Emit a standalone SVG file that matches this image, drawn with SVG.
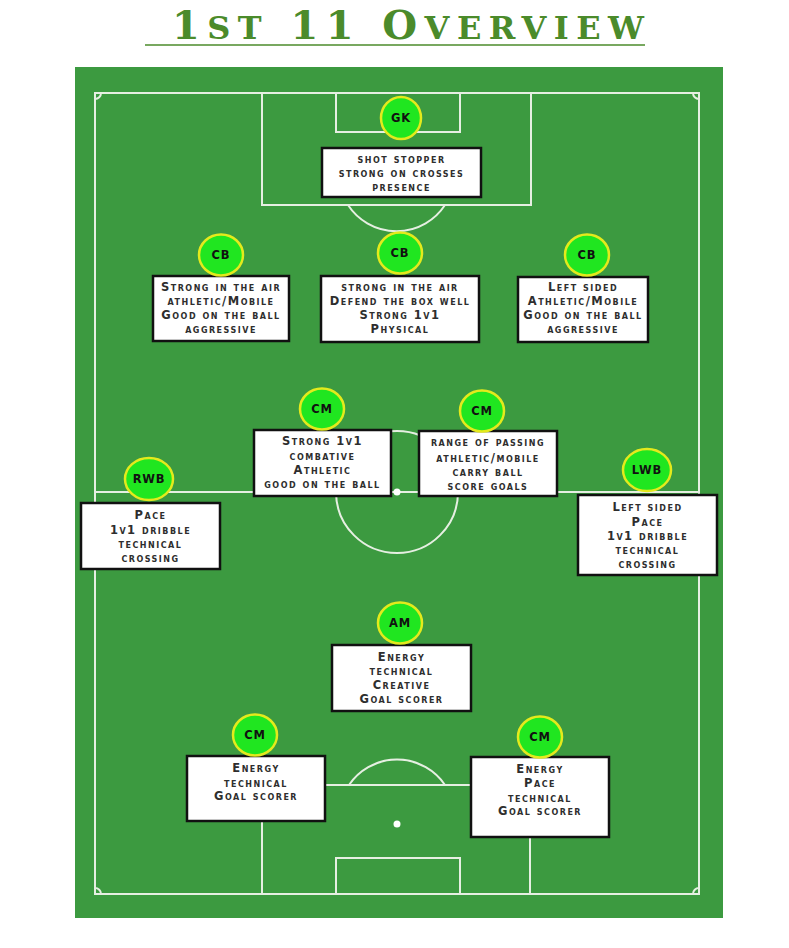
<svg xmlns="http://www.w3.org/2000/svg" width="789" height="948" viewBox="0 0 789 948">
<style>
.ln{fill:none;stroke:#e6efe2;stroke-width:2}
.box{fill:#fff;stroke:#111;stroke-width:2.5}
.tx{font-family:"DejaVu Sans","Liberation Sans",sans-serif;font-weight:bold;font-size:11.5px;font-variant:small-caps;letter-spacing:1.5px;fill:#2e2e2e;text-anchor:middle}
.lb{font-family:"DejaVu Sans","Liberation Sans",sans-serif;font-weight:bold;font-size:11.5px;letter-spacing:0.8px;fill:#111;text-anchor:middle}
.title{font-family:"DejaVu Serif","Liberation Serif",serif;font-weight:bold;font-size:40px;fill:#4b8b2b}
.sc{font-size:32px;text-transform:uppercase}
.disc{fill:#20e620;stroke:#e4ea1c;stroke-width:2.5}
</style>
<rect width="789" height="948" fill="#fff"/>
<g id="title">
<text class="title" x="172" y="39" textLength="472" lengthAdjust="spacing">1<tspan class="sc">st</tspan> 11 O<tspan class="sc">verview</tspan></text>
<line x1="145" y1="45" x2="645" y2="45" stroke="#4b8b2b" stroke-width="1.5"/>
</g>
<g id="pitch">
<rect x="75" y="67" width="648" height="851" fill="#3c9a40"/>
<rect class="ln" x="95" y="93" width="604" height="801"/>
<path class="ln" d="M95,99 A6,6 0 0 0 101,93 M693,93 A6,6 0 0 0 699,99 M95,888 A6,6 0 0 1 101,894 M693,894 A6,6 0 0 1 699,888"/>
<rect class="ln" x="262" y="93" width="269" height="112"/>
<rect class="ln" x="336" y="93" width="124" height="39"/>
<path class="ln" d="M348,205 A58,58 0 0 0 445,205"/>
<line class="ln" x1="95" y1="492" x2="699" y2="492"/>
<circle class="ln" cx="397" cy="492" r="61"/>
<circle fill="#fff" cx="397" cy="492" r="3.5"/>
<rect class="ln" x="262" y="785" width="268" height="109"/>
<rect class="ln" x="336" y="858" width="124" height="36"/>
<path class="ln" d="M349,785 A58,58 0 0 1 445,785"/>
<circle fill="#fff" cx="397" cy="824" r="3.5"/>
</g>
<g id="connectors"></g>
<g id="gk">
<rect class="box" x="322" y="148" width="159" height="49"/>
<ellipse class="disc" cx="401" cy="118" rx="20" ry="21"/>
<text class="lb" x="401" y="122">GK</text>
<text class="tx" x="401.5" y="163">shot stopper</text>
<text class="tx" x="401.5" y="177">strong on crosses</text>
<text class="tx" x="401.5" y="191">presence</text>
</g>
<g id="cb-right">
<rect class="box" x="153" y="276" width="136" height="65"/>
<ellipse class="disc" cx="221" cy="255" rx="22" ry="20.5"/>
<text class="lb" x="221" y="259">CB</text>
<text class="tx" x="221" y="291">Strong in the air</text>
<text class="tx" x="221" y="305">athletic/Mobile</text>
<text class="tx" x="221" y="319">Good on the ball</text>
<text class="tx" x="221" y="333">aggressive</text>
</g>
<g id="cb-centre">
<rect class="box" x="321" y="276" width="158" height="66"/>
<ellipse class="disc" cx="400" cy="253" rx="22" ry="20.5"/>
<text class="lb" x="400" y="257">CB</text>
<text class="tx" x="400" y="291">strong in the air</text>
<text class="tx" x="400" y="305">Defend the box well</text>
<text class="tx" x="400" y="319">Strong 1v1</text>
<text class="tx" x="400" y="333">Physical</text>
</g>
<g id="cb-left">
<rect class="box" x="518" y="277" width="130" height="65"/>
<ellipse class="disc" cx="587" cy="255" rx="22" ry="20.5"/>
<text class="lb" x="587" y="259">CB</text>
<text class="tx" x="583" y="291">Left sided</text>
<text class="tx" x="583" y="305">Athletic/Mobile</text>
<text class="tx" x="583" y="319">Good on the ball</text>
<text class="tx" x="583" y="333">aggressive</text>
</g>
<g id="cm-defensive">
<rect class="box" x="254" y="430" width="137" height="66"/>
<ellipse class="disc" cx="322" cy="409" rx="22" ry="20.5"/>
<text class="lb" x="322" y="413">CM</text>
<text class="tx" x="322.5" y="445">Strong 1v1</text>
<text class="tx" x="322.5" y="460">combative</text>
<text class="tx" x="322.5" y="474">Athletic</text>
<text class="tx" x="322.5" y="488">good on the ball</text>
</g>
<g id="cm-box-to-box">
<rect class="box" x="419" y="431" width="138" height="65"/>
<ellipse class="disc" cx="482" cy="411" rx="22" ry="20.5"/>
<text class="lb" x="482" y="415">CM</text>
<text class="tx" x="488" y="446">range of passing</text>
<text class="tx" x="488" y="462">athletic/mobile</text>
<text class="tx" x="488" y="476">carry ball</text>
<text class="tx" x="488" y="490">score goals</text>
</g>
<g id="rwb">
<rect class="box" x="81" y="503" width="139" height="66"/>
<ellipse class="disc" cx="149" cy="479" rx="24" ry="21"/>
<text class="lb" x="149" y="483">RWB</text>
<text class="tx" x="150.5" y="519">Pace</text>
<text class="tx" x="150.5" y="534">1v1 dribble</text>
<text class="tx" x="150.5" y="548">technical</text>
<text class="tx" x="150.5" y="562">crossing</text>
</g>
<g id="lwb">
<rect class="box" x="578" y="495" width="139" height="80"/>
<ellipse class="disc" cx="647" cy="470" rx="24" ry="21"/>
<text class="lb" x="647" y="474">LWB</text>
<text class="tx" x="647.5" y="511">Left sided</text>
<text class="tx" x="647.5" y="526">Pace</text>
<text class="tx" x="647.5" y="540">1v1 dribble</text>
<text class="tx" x="647.5" y="554">technical</text>
<text class="tx" x="647.5" y="568">crossing</text>
</g>
<g id="am">
<rect class="box" x="332" y="645" width="139" height="66"/>
<ellipse class="disc" cx="400" cy="623" rx="22" ry="20.5"/>
<text class="lb" x="400" y="627">AM</text>
<text class="tx" x="401.5" y="661">Energy</text>
<text class="tx" x="401.5" y="675">technical</text>
<text class="tx" x="401.5" y="689">Creative</text>
<text class="tx" x="401.5" y="703">Goal scorer</text>
</g>
<g id="cm-attacking-right">
<rect class="box" x="187" y="756" width="138" height="65"/>
<ellipse class="disc" cx="255" cy="735" rx="22" ry="20.5"/>
<text class="lb" x="255" y="739">CM</text>
<text class="tx" x="256" y="772">Energy</text>
<text class="tx" x="256" y="787">technical</text>
<text class="tx" x="256" y="800">Goal scorer</text>
</g>
<g id="cm-attacking-left">
<rect class="box" x="471" y="757" width="138" height="80"/>
<ellipse class="disc" cx="540" cy="737" rx="22" ry="20.5"/>
<text class="lb" x="540" y="741">CM</text>
<text class="tx" x="540" y="773">Energy</text>
<text class="tx" x="540" y="787">Pace</text>
<text class="tx" x="540" y="802">technical</text>
<text class="tx" x="540" y="815">Goal scorer</text>
</g>
</svg>
